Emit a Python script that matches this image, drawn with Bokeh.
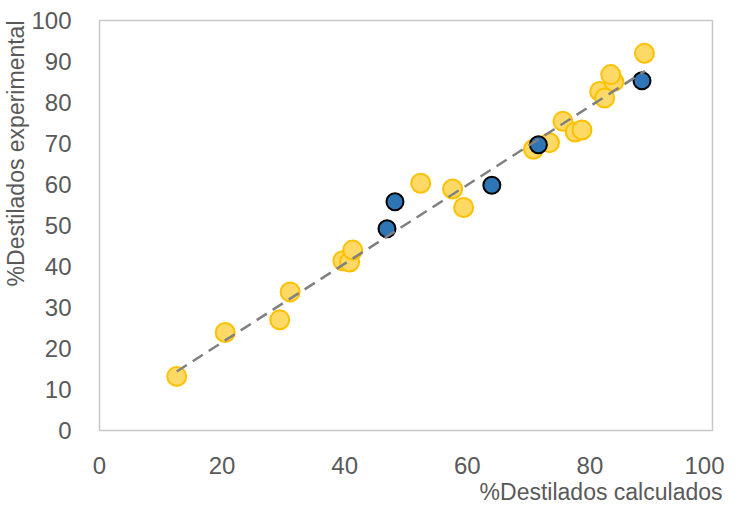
from bokeh.plotting import figure
from bokeh.models import Range1d, FixedTicker, Title
from bokeh.embed import file_html
from bokeh.resources import INLINE

# Yellow series (calculated vs experimental)
yellow_x = [12.6, 20.5, 29.4, 31.1, 39.7, 40.8, 41.3, 52.4, 57.6, 59.4,
            70.8, 73.4, 75.6, 77.6, 78.7, 81.6, 82.4, 83.9, 83.4, 88.9]
yellow_y = [13.2, 23.9, 27.0, 33.8, 41.4, 41.1, 44.0, 60.3, 58.9, 54.4,
            68.6, 70.2, 75.4, 72.8, 73.3, 82.7, 81.1, 85.1, 86.8, 92.0]

# Blue series
blue_x = [48.2, 46.9, 64.0, 71.6, 88.5]
blue_y = [55.8, 49.2, 59.8, 69.7, 85.3]

# Trend line endpoints
trend_x = [12.6, 89.0]
trend_y = [14.4, 87.7]

ticks_x = [0, 20, 40, 60, 80, 100]
ticks_y = [0, 10, 20, 30, 40, 50, 60, 70, 80, 90, 100]

FONT = "Liberation Sans"
GREY = "#595959"

p = figure(width=724, height=504, output_backend="svg", toolbar_location=None,
           x_range=Range1d(0, 100), y_range=Range1d(0, 100),
           min_border_left=80, min_border_right=12, min_border_top=20,
           min_border_bottom=60)

p.grid.visible = False
p.outline_line_color = "#c8c8c8"
p.outline_line_width = 1.5
p.background_fill_color = "white"
p.border_fill_color = "white"

for ax in (p.xaxis[0], p.yaxis[0]):
    ax.axis_line_color = None
    ax.major_tick_line_color = None
    ax.minor_tick_line_color = None
    ax.major_label_text_font = FONT
    ax.major_label_text_font_size = "24px"
    ax.major_label_text_color = GREY

p.xaxis[0].ticker = FixedTicker(ticks=ticks_x)
p.yaxis[0].ticker = FixedTicker(ticks=ticks_y)
p.xaxis[0].major_label_standoff = 20
p.yaxis[0].major_label_standoff = 22

p.scatter(yellow_x, yellow_y, size=19, fill_color="#FFD966",
          line_color="#FFC000", line_width=2)
p.scatter(blue_x, blue_y, size=17, fill_color="#2E75B6",
          line_color="black", line_width=2)
p.line(trend_x, trend_y, line_color="#808080", line_width=2.5,
       line_dash="12 7")

xt = Title(text="%Destilados calculados", align="right",
           text_font=FONT, text_font_size="23px", text_color=GREY,
           text_font_style="normal", offset=-10, standoff=0)
p.add_layout(xt, "below")
yt = Title(text="%Destilados experimental", align="right",
           text_font=FONT, text_font_size="23px", text_color=GREY,
           text_font_style="normal", standoff=0)
p.add_layout(yt, "left")

open("out.html", "w").write(file_html(p, INLINE))
